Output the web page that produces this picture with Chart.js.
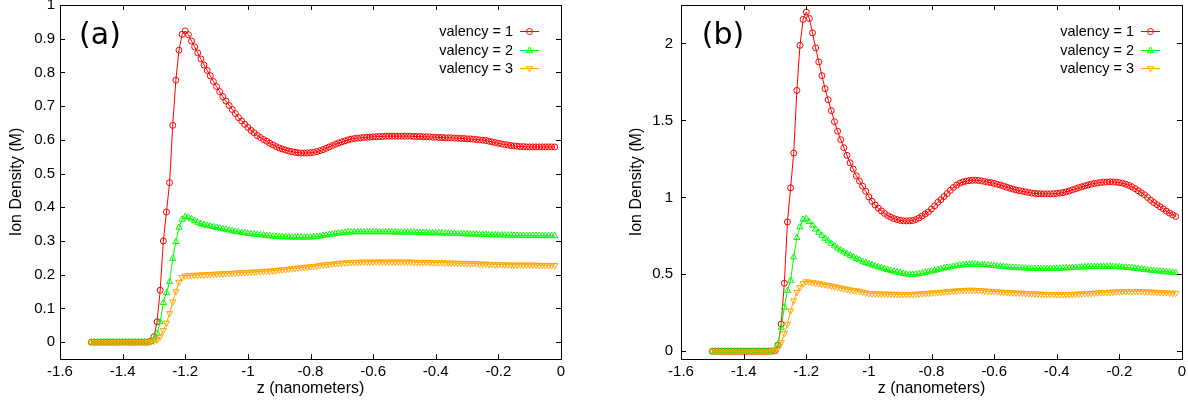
<!DOCTYPE html>
<html>
<head>
<meta charset="utf-8">
<script src="https://cdn.jsdelivr.net/npm/chart.js@4.4.1/dist/chart.umd.min.js"></script>
<style>
  body { margin: 0; background: #fff; }
  canvas { position: absolute; top: 0; }
</style>
</head>
<body>
<canvas id="chartA" width="594" height="402" style="left:0"></canvas>
<canvas id="chartB" width="594" height="402" style="left:594px"></canvas>
<script>
// z positions (nanometers), shared by both panels
const zValues = [
  -1.50, -1.49, -1.48, -1.47, -1.46, -1.45, -1.44, -1.43, -1.42, -1.41,
  -1.40, -1.39, -1.38, -1.37, -1.36, -1.35, -1.34, -1.33, -1.32, -1.31,
  -1.30, -1.29, -1.28, -1.27, -1.26, -1.25, -1.24, -1.23, -1.22, -1.21,
  -1.20, -1.19, -1.18, -1.17, -1.16, -1.15, -1.14, -1.13, -1.12, -1.11,
  -1.10, -1.09, -1.08, -1.07, -1.06, -1.05, -1.04, -1.03, -1.02, -1.01,
  -1.00, -0.99, -0.98, -0.97, -0.96, -0.95, -0.94, -0.93, -0.92, -0.91,
  -0.90, -0.89, -0.88, -0.87, -0.86, -0.85, -0.84, -0.83, -0.82, -0.81,
  -0.80, -0.79, -0.78, -0.77, -0.76, -0.75, -0.74, -0.73, -0.72, -0.71,
  -0.70, -0.69, -0.68, -0.67, -0.66, -0.65, -0.64, -0.63, -0.62, -0.61,
  -0.60, -0.59, -0.58, -0.57, -0.56, -0.55, -0.54, -0.53, -0.52, -0.51,
  -0.50, -0.49, -0.48, -0.47, -0.46, -0.45, -0.44, -0.43, -0.42, -0.41,
  -0.40, -0.39, -0.38, -0.37, -0.36, -0.35, -0.34, -0.33, -0.32, -0.31,
  -0.30, -0.29, -0.28, -0.27, -0.26, -0.25, -0.24, -0.23, -0.22, -0.21,
  -0.20, -0.19, -0.18, -0.17, -0.16, -0.15, -0.14, -0.13, -0.12, -0.11,
  -0.10, -0.09, -0.08, -0.07, -0.06, -0.05, -0.04, -0.03, -0.02
];

// panel (a)
const densityA1 = [
  0, 0, 0, 0, 0, 0, 0, 0, 0, 0,
  0, 0, 0, 0, 0, 0, 0, 0, 0, 0.003,
  0.016, 0.06, 0.154, 0.30, 0.386, 0.473, 0.643, 0.777, 0.866, 0.913,
  0.923, 0.912, 0.893, 0.876, 0.858, 0.840, 0.822, 0.806, 0.790, 0.773,
  0.758, 0.743, 0.728, 0.715, 0.702, 0.690, 0.678, 0.666, 0.656, 0.646,
  0.637, 0.628, 0.621, 0.613, 0.607, 0.601, 0.596, 0.590, 0.585, 0.580,
  0.576, 0.573, 0.570, 0.567, 0.565, 0.563, 0.562, 0.561, 0.561, 0.561,
  0.562, 0.563, 0.565, 0.568, 0.571, 0.575, 0.579, 0.583, 0.587, 0.591,
  0.594, 0.597, 0.600, 0.602, 0.604, 0.605, 0.606, 0.607, 0.608, 0.608,
  0.609, 0.609, 0.610, 0.610, 0.611, 0.611, 0.611, 0.611, 0.611, 0.611,
  0.611, 0.611, 0.611, 0.610, 0.610, 0.610, 0.609, 0.609, 0.609, 0.608,
  0.608, 0.607, 0.607, 0.606, 0.606, 0.606, 0.605, 0.605, 0.604, 0.604,
  0.603, 0.603, 0.602, 0.601, 0.600, 0.599, 0.598, 0.596, 0.594, 0.592,
  0.590, 0.588, 0.586, 0.585, 0.583, 0.582, 0.581, 0.580, 0.580, 0.579,
  0.579, 0.579, 0.579, 0.579, 0.579, 0.579, 0.579, 0.579, 0.579
];
const densityA2 = [
  0, 0, 0, 0, 0, 0, 0, 0, 0, 0,
  0, 0, 0, 0, 0, 0, 0, 0, 0, 0.002,
  0.008, 0.026, 0.06, 0.117, 0.146, 0.179, 0.248, 0.298, 0.340, 0.364,
  0.372, 0.370, 0.365, 0.360, 0.355, 0.351, 0.348, 0.346, 0.344, 0.342,
  0.340, 0.338, 0.336, 0.334, 0.332, 0.330, 0.328, 0.327, 0.325, 0.324,
  0.322, 0.321, 0.320, 0.319, 0.318, 0.317, 0.316, 0.315, 0.314, 0.313,
  0.3125, 0.312, 0.312, 0.3115, 0.3115, 0.311, 0.311, 0.311, 0.311, 0.311,
  0.311, 0.312, 0.313, 0.314, 0.316, 0.317, 0.319, 0.320, 0.322, 0.323,
  0.324, 0.325, 0.326, 0.326, 0.327, 0.327, 0.327, 0.327, 0.327, 0.327,
  0.327, 0.327, 0.327, 0.327, 0.327, 0.327, 0.327, 0.326, 0.326, 0.326,
  0.326, 0.326, 0.326, 0.326, 0.325, 0.325, 0.325, 0.325, 0.324, 0.324,
  0.324, 0.324, 0.323, 0.323, 0.323, 0.322, 0.322, 0.322, 0.321, 0.321,
  0.321, 0.320, 0.320, 0.320, 0.319, 0.319, 0.319, 0.318, 0.318, 0.318,
  0.3175, 0.3175, 0.317, 0.317, 0.317, 0.317, 0.3165, 0.3165, 0.316, 0.316,
  0.316, 0.316, 0.316, 0.3155, 0.3155, 0.3155, 0.3155, 0.3155, 0.3155
];
const densityA3 = [
  0, 0, 0, 0, 0, 0, 0, 0, 0, 0,
  0, 0, 0, 0, 0, 0, 0, 0, 0, 0.001,
  0.003, 0.007, 0.016, 0.035, 0.057, 0.085, 0.12, 0.15, 0.178, 0.192,
  0.197, 0.198, 0.198, 0.199, 0.199, 0.200, 0.200, 0.201, 0.201, 0.202,
  0.202, 0.203, 0.203, 0.204, 0.204, 0.205, 0.205, 0.206, 0.206, 0.207,
  0.207, 0.208, 0.208, 0.209, 0.209, 0.210, 0.211, 0.211, 0.212, 0.213,
  0.214, 0.215, 0.216, 0.217, 0.218, 0.219, 0.220, 0.221, 0.222, 0.223,
  0.224, 0.225, 0.226, 0.228, 0.229, 0.230, 0.231, 0.232, 0.233, 0.234,
  0.235, 0.236, 0.236, 0.237, 0.237, 0.237, 0.238, 0.238, 0.238, 0.238,
  0.238, 0.238, 0.238, 0.238, 0.238, 0.238, 0.238, 0.238, 0.238, 0.238,
  0.238, 0.238, 0.238, 0.237, 0.237, 0.237, 0.237, 0.237, 0.236, 0.236,
  0.236, 0.236, 0.236, 0.235, 0.235, 0.235, 0.235, 0.234, 0.234, 0.234,
  0.234, 0.233, 0.233, 0.233, 0.232, 0.232, 0.232, 0.231, 0.231, 0.230,
  0.230, 0.230, 0.230, 0.229, 0.229, 0.229, 0.229, 0.229, 0.229, 0.229,
  0.229, 0.229, 0.229, 0.228, 0.228, 0.228, 0.228, 0.228, 0.228
];

// panel (b)
const densityB1 = [
  0, 0, 0, 0, 0, 0, 0, 0, 0, 0,
  0, 0, 0, 0, 0, 0, 0, 0, 0, 0.001,
  0.003, 0.042, 0.177, 0.442, 0.84, 1.062, 1.288, 1.695, 1.988, 2.156,
  2.204, 2.162, 2.069, 1.971, 1.880, 1.791, 1.706, 1.634, 1.564, 1.492,
  1.430, 1.375, 1.323, 1.273, 1.225, 1.184, 1.140, 1.106, 1.073, 1.040,
  1.003, 0.975, 0.950, 0.930, 0.912, 0.896, 0.882, 0.871, 0.862, 0.856,
  0.851, 0.848, 0.847, 0.848, 0.850, 0.856, 0.866, 0.879, 0.892, 0.905,
  0.925, 0.945, 0.968, 0.985, 1.005, 1.025, 1.046, 1.065, 1.080, 1.092,
  1.100, 1.106, 1.109, 1.111, 1.112, 1.110, 1.107, 1.103, 1.099, 1.096,
  1.091, 1.085, 1.080, 1.074, 1.066, 1.060, 1.054, 1.048, 1.044, 1.040,
  1.036, 1.032, 1.028, 1.026, 1.024, 1.023, 1.023, 1.023, 1.023, 1.024,
  1.026, 1.028, 1.031, 1.036, 1.042, 1.049, 1.056, 1.063, 1.069, 1.075,
  1.081, 1.086, 1.090, 1.094, 1.097, 1.099, 1.100, 1.101, 1.100, 1.099,
  1.096, 1.092, 1.086, 1.078, 1.069, 1.057, 1.043, 1.030, 1.017, 1.000,
  0.982, 0.967, 0.953, 0.939, 0.925, 0.911, 0.898, 0.887, 0.876
];
const densityB2 = [
  0, 0, 0, 0, 0, 0, 0, 0, 0, 0,
  0, 0, 0, 0, 0, 0, 0, 0, 0, 0.002,
  0.01, 0.047, 0.155, 0.286, 0.395, 0.46, 0.612, 0.738, 0.808, 0.856,
  0.862, 0.842, 0.818, 0.793, 0.772, 0.752, 0.733, 0.717, 0.700, 0.684,
  0.670, 0.658, 0.645, 0.633, 0.623, 0.612, 0.602, 0.593, 0.584, 0.576,
  0.568, 0.561, 0.554, 0.548, 0.542, 0.536, 0.530, 0.524, 0.519, 0.514,
  0.510, 0.505, 0.501, 0.499, 0.499, 0.500, 0.503, 0.507, 0.512, 0.516,
  0.520, 0.525, 0.530, 0.535, 0.540, 0.544, 0.548, 0.552, 0.556, 0.559,
  0.561, 0.563, 0.564, 0.565, 0.565, 0.564, 0.563, 0.562, 0.560, 0.558,
  0.556, 0.554, 0.552, 0.550, 0.548, 0.546, 0.545, 0.543, 0.542, 0.541,
  0.540, 0.539, 0.538, 0.538, 0.537, 0.537, 0.537, 0.537, 0.537, 0.538,
  0.538, 0.539, 0.540, 0.541, 0.542, 0.543, 0.545, 0.546, 0.547, 0.548,
  0.549, 0.550, 0.550, 0.551, 0.551, 0.551, 0.551, 0.551, 0.550, 0.549,
  0.548, 0.547, 0.545, 0.543, 0.541, 0.539, 0.536, 0.534, 0.531, 0.529,
  0.526, 0.524, 0.522, 0.520, 0.518, 0.516, 0.514, 0.512, 0.510
];
const densityB3 = [
  0, 0, 0, 0, 0, 0, 0, 0, 0, 0,
  0, 0, 0, 0, 0, 0, 0, 0, 0, 0.001,
  0.006, 0.022, 0.057, 0.116, 0.177, 0.264, 0.329, 0.384, 0.416, 0.442,
  0.453, 0.450, 0.447, 0.444, 0.441, 0.437, 0.433, 0.429, 0.425, 0.421,
  0.417, 0.412, 0.408, 0.404, 0.400, 0.397, 0.394, 0.390, 0.386, 0.381,
  0.377, 0.376, 0.375, 0.374, 0.373, 0.373, 0.372, 0.372, 0.371, 0.371,
  0.370, 0.370, 0.369, 0.370, 0.371, 0.373, 0.374, 0.376, 0.377, 0.378,
  0.380, 0.381, 0.383, 0.384, 0.386, 0.388, 0.390, 0.392, 0.393, 0.395,
  0.396, 0.397, 0.398, 0.398, 0.397, 0.396, 0.395, 0.393, 0.391, 0.390,
  0.389, 0.387, 0.386, 0.384, 0.383, 0.382, 0.381, 0.380, 0.379, 0.378,
  0.377, 0.376, 0.375, 0.374, 0.373, 0.372, 0.371, 0.370, 0.370, 0.369,
  0.369, 0.369, 0.369, 0.370, 0.370, 0.371, 0.372, 0.373, 0.374, 0.376,
  0.377, 0.378, 0.379, 0.380, 0.382, 0.383, 0.384, 0.385, 0.386, 0.387,
  0.388, 0.389, 0.389, 0.390, 0.390, 0.390, 0.390, 0.389, 0.388, 0.387,
  0.386, 0.385, 0.384, 0.383, 0.382, 0.381, 0.380, 0.379, 0.378
];

const seriesLabels = ['valency = 1', 'valency = 2', 'valency = 3'];
const xTicks = [-1.6, -1.4, -1.2, -1, -0.8, -0.6, -0.4, -0.2, 0];
const yTicksA = [0, 0.1, 0.2, 0.3, 0.4, 0.5, 0.6, 0.7, 0.8, 0.9, 1];
const yTicksB = [0, 0.5, 1, 1.5, 2];

const FONT = 'Liberation Sans, Arial, sans-serif';
const styles = [
  { color: '#ff0000', pointStyle: 'circle', radius: 3, rotation: 0 },
  { color: '#00ff00', pointStyle: 'triangle', radius: 3.6, rotation: 0 },
  { color: '#ffa500', pointStyle: 'triangle', radius: 3.6, rotation: 180 }
];

function fmt(v) {
  return String(Math.round(v * 10) / 10);
}

function drawMarker(ctx, st, x, y) {
  ctx.beginPath();
  if (st.pointStyle === 'circle') {
    ctx.arc(x, y, st.radius, 0, Math.PI * 2);
  } else {
    let rad = st.rotation * Math.PI / 180;
    for (let k = 0; k < 3; k++) {
      const px = x + Math.sin(rad) * st.radius;
      const py = y - Math.cos(rad) * st.radius;
      if (k === 0) ctx.moveTo(px, py); else ctx.lineTo(px, py);
      rad += Math.PI * 2 / 3;
    }
    ctx.closePath();
  }
  ctx.stroke();
}

// gnuplot-like frame: border, inward ticks on all four sides, key and panel label
const framePlugin = {
  id: 'frame',
  afterDatasetsDraw(chart, args, opts) {
    const {ctx, chartArea: a, scales: {x, y}} = chart;
    ctx.save();
    ctx.strokeStyle = '#000';
    ctx.lineWidth = 1;
    ctx.beginPath();
    x.ticks.forEach(t => {
      const px = Math.round(x.getPixelForValue(t.value)) + 0.5;
      ctx.moveTo(px, a.bottom); ctx.lineTo(px, a.bottom - 5);
      ctx.moveTo(px, a.top); ctx.lineTo(px, a.top + 5);
    });
    y.ticks.forEach(t => {
      const py = Math.round(y.getPixelForValue(t.value)) + 0.5;
      ctx.moveTo(a.left, py); ctx.lineTo(a.left + 5, py);
      ctx.moveTo(a.right, py); ctx.lineTo(a.right - 5, py);
    });
    ctx.stroke();
    ctx.strokeRect(a.left + 0.5, a.top + 0.5, a.right - a.left, a.bottom - a.top);

    // key
    ctx.font = '14.5px ' + FONT;
    ctx.textAlign = 'right';
    ctx.textBaseline = 'middle';
    ctx.fillStyle = '#000';
    seriesLabels.forEach((lab, i) => {
      const ky = Math.round(31 + i * 18.6) + 0.5;
      ctx.fillText(lab, a.right - 48, ky);
      const st = styles[i];
      ctx.strokeStyle = st.color;
      ctx.beginPath();
      ctx.moveTo(a.right - 41, ky); ctx.lineTo(a.right - 22, ky);
      ctx.stroke();
      drawMarker(ctx, st, a.right - 31.5, ky);
    });

    // panel label
    ctx.font = '30px DejaVu Sans, sans-serif';
    ctx.textAlign = 'center';
    ctx.fillStyle = '#000';
    ctx.fillText(opts.label, a.left + opts.labelDx, 36);
    ctx.restore();
  }
};

function makeChart(id, series, cfg) {
  const datasets = series.map((vals, i) => ({
    label: seriesLabels[i],
    data: zValues.map((z, j) => ({ x: z, y: vals[j] })),
    borderColor: styles[i].color,
    borderWidth: 1,
    pointStyle: styles[i].pointStyle,
    pointRotation: styles[i].rotation,
    pointRadius: styles[i].radius,
    pointBorderWidth: 1,
    pointBorderColor: styles[i].color,
    pointBackgroundColor: 'rgba(0,0,0,0)',
    tension: 0,
    order: 3 - i
  }));

  return new Chart(document.getElementById(id).getContext('2d'), {
    type: 'line',
    data: { datasets },
    options: {
      responsive: false,
      animation: false,
      devicePixelRatio: 1,
      events: [],
      layout: { padding: { left: cfg.padLeft, right: cfg.padRight, top: 4, bottom: 0 } },
      plugins: {
        legend: { display: false },
        tooltip: { enabled: false },
        frame: { label: cfg.label, labelDx: cfg.labelDx }
      },
      scales: {
        x: {
          type: 'linear',
          min: -1.6,
          max: 0,
          afterBuildTicks: s => { s.ticks = xTicks.map(v => ({ value: v })); },
          afterFit: s => {
            s.height = 43;
            s.paddingLeft = 0; s.paddingRight = 0;
          },
          grid: { display: false, drawTicks: false },
          border: { display: false },
          ticks: {
            padding: 4,
            color: '#000',
            font: { family: FONT, size: 15 },
            maxRotation: 0,
            callback: v => fmt(v)
          },
          title: {
            display: true,
            text: 'z (nanometers)',
            color: '#000',
            font: { family: FONT, size: 16 },
            padding: { top: 0, bottom: 4 }
          }
        },
        y: {
          type: 'linear',
          min: -0.05,
          max: cfg.yMax,
          afterBuildTicks: s => { s.ticks = cfg.yTicks.map(v => ({ value: v })); },
          afterFit: s => {
            s.width = cfg.yWidth;
            s.paddingTop = 0; s.paddingBottom = 0;
          },
          grid: { display: false, drawTicks: false },
          border: { display: false },
          ticks: {
            padding: cfg.tickPad,
            color: '#000',
            font: { family: FONT, size: 15 },
            callback: v => fmt(v)
          },
          title: {
            display: true,
            text: 'Ion Density (M)',
            color: '#000',
            font: { family: FONT, size: 16 },
            padding: { top: 7, bottom: 0 }
          }
        }
      }
    },
    plugins: [framePlugin]
  });
}

makeChart('chartA', [densityA1, densityA2, densityA3], {
  yMax: 1, yTicks: yTicksA, padLeft: 0, padRight: 33, yWidth: 60, tickPad: 5,
  label: '(a)', labelDx: 40
});
makeChart('chartB', [densityB1, densityB2, densityB3], {
  yMax: 2.25, yTicks: yTicksB, padLeft: 26, padRight: 6, yWidth: 61, tickPad: 8,
  label: '(b)', labelDx: 42
});
</script>
</body>
</html>
